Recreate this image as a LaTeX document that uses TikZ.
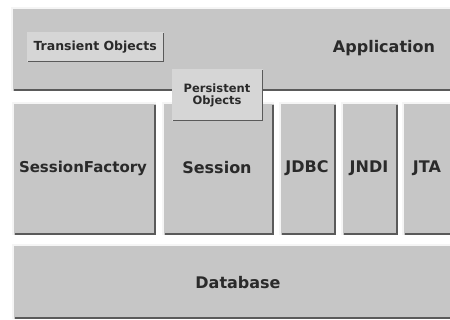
\documentclass[tikz,border=0pt]{standalone}
\usepackage{fontspec}
\setmainfont{DejaVu Sans}
\begin{document}
\begin{tikzpicture}[x=1pt,y=-1pt,
  layer/.style={draw=none,fill=boxgray,inner sep=0pt,outer sep=0pt},
  tag/.style={draw=none,fill=taggray,inner sep=0pt,outer sep=0pt},
  shade/.style={draw=shadowgray,line width=2pt},
  hilite/.style={draw=white!92!gray,line width=1.2pt},
  lbl/.style={font=\bfseries\fontsize{16}{18}\selectfont,text=textgray},
  small/.style={font=\bfseries\fontsize{11.5}{13}\selectfont,text=textgray,align=center}]
\definecolor{boxgray}{HTML}{C6C6C6}
\definecolor{taggray}{HTML}{D6D6D6}
\definecolor{shadowgray}{HTML}{5A5A5A}
\definecolor{textgray}{HTML}{2A2A2A}
\useasboundingbox[fill=white] (0,0) rectangle (450,320);
\newcommand{\layerbox}[5]{%
  \path[layer] (#2,#3) rectangle (#4,#5);
  \coordinate (#1-nw) at (#2,#3);
  \coordinate (#1-se) at (#4,#5);
  \draw[hilite] (#2,#5) -- (#2,#3) -- (#4,#3);
  \draw[shade] (#4-1,#3+2) -- (#4-1,#5-1) -- (#2+2,#5-1);
}
\newcommand{\tagbox}[5]{%
  \path[tag] (#2,#3) rectangle (#4,#5);
  \draw[draw=shadowgray,line width=1.2pt] (#4-0.6,#3+1) -- (#4-0.6,#5-0.6) -- (#2+1,#5-0.6);
}
\begin{scope}
\clip (0,0) rectangle (450,320);
\layerbox{app}{12}{8}{458}{91}
\layerbox{sf}{13}{103}{156}{235}
\layerbox{ses}{163}{103}{274}{235}
\layerbox{jdbc}{280}{103}{336}{235}
\layerbox{jndi}{342}{103}{398}{235}
\layerbox{jta}{403}{103}{458}{235}
\layerbox{db}{13}{245}{458}{319}
\tagbox{tr}{27}{32}{164}{62}
\tagbox{pe}{172}{69}{263}{121}
\end{scope}
\node[lbl] (application) at (384,48) {Application};
\node[small,anchor=west,font=\bfseries\fontsize{12.5}{14}\selectfont] (transient) at (30,47) {Transient Objects};
\node[small] (persistent) at (217,95) {Persistent\\[-1pt]Objects};
\node[lbl,font=\bfseries\fontsize{15}{17}\selectfont] (sessionfactory) at (83,168) {SessionFactory};
\node[lbl] (session) at (217,168) {Session};
\node[lbl] (jdbcl) at (307,168) {JDBC};
\node[lbl] (jndil) at (369,168) {JNDI};
\node[lbl] (jtal) at (427,168) {JTA};
\node[lbl] (database) at (238,283) {Database};
\end{tikzpicture}
\end{document}
